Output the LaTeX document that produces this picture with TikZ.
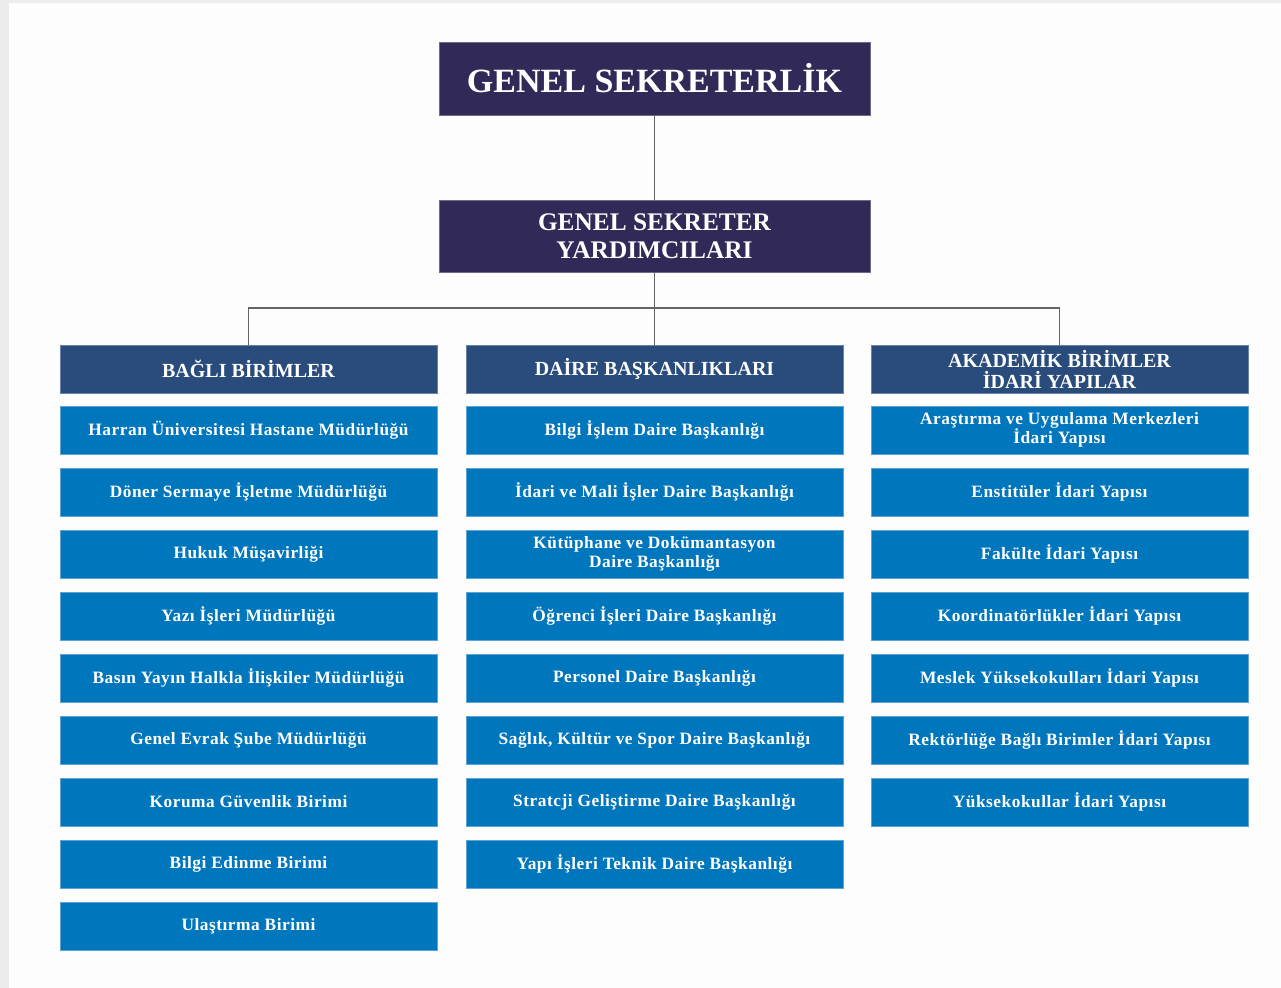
\documentclass[tikz,border=0pt]{standalone}
\usepackage{fontspec}
\setmainfont{Liberation Serif}
\newfontfamily\itemfont[LetterSpace=3]{Liberation Serif}
\begin{document}
\definecolor{pagegray}{RGB}{236,236,236}
\definecolor{pagewhite}{RGB}{253,253,253}
\definecolor{topviolet}{RGB}{49,41,88}
\definecolor{headblue}{RGB}{41,76,124}
\definecolor{itemblue}{RGB}{0,118,189}
\definecolor{itemedge}{RGB}{96,162,214}
\definecolor{linkgray}{RGB}{100,100,100}
\begin{tikzpicture}[x=0.75pt,y=-0.75pt,
  topbox/.style={fill=topviolet, draw=topviolet!70!white, line width=0.6pt,
    text=white, align=center, minimum width=431*0.75pt, inner sep=0pt},
  headbox/.style={fill=headblue, draw=headblue!70!white, line width=0.6pt,
    text=white, align=center, minimum width=377*0.75pt, minimum height=48*0.75pt,
    inner sep=0pt, font=\bfseries\fontsize{15}{15.8}\selectfont},
  itembox/.style={fill=itemblue, draw=itemedge, line width=0.6pt,
    text=white, align=center, minimum width=377*0.75pt, minimum height=48*0.75pt,
    inner sep=0pt, font=\itemfont\bfseries\fontsize{13}{14.3}\selectfont},
  link/.style={draw=linkgray, line width=0.9pt}]
% page
\fill[pagegray] (0,0) rectangle (1281,988);
\fill[pagewhite] (9,3) rectangle (1281,988);
% top levels
\node[topbox, minimum height=73*0.75pt, font=\bfseries\fontsize{25.5}{27}\selectfont] (gs) at (654.5,78.5) {GENEL SEKRETERLİK};
\node[topbox, minimum height=72*0.75pt, font=\bfseries\fontsize{19}{21}\selectfont] (gsy) at (654.5,236) {GENEL SEKRETER\\YARDIMCILARI};
% column headers
\node[headbox] (h1) at (248.5,369) {BAĞLI BİRİMLER};
\node[headbox] (h2) at (654.5,369) {DAİRE BAŞKANLIKLARI};
\node[headbox] (h3) at (1059.5,369) {AKADEMİK BİRİMLER\\İDARİ YAPILAR};
% connectors
\coordinate (j) at (654.5,308);
\draw[link] (gs.south) -- (gsy.north);
\draw[link] (gsy.south) -- (j);
\draw[link] (h1.north) |- (j) -| (h3.north);
\draw[link] (j) -- (h2.north);
% first column
\foreach \t [count=\i from 0] in {
  Harran Üniversitesi Hastane Müdürlüğü,
  Döner Sermaye İşletme Müdürlüğü,
  Hukuk Müşavirliği,
  Yazı İşleri Müdürlüğü,
  Basın Yayın Halkla İlişkiler Müdürlüğü,
  Genel Evrak Şube Müdürlüğü,
  Koruma Güvenlik Birimi,
  Bilgi Edinme Birimi,
  Ulaştırma Birimi}
  \node[itembox] (a\i) at (248.5,430+62*\i) {\t};
% second column
\foreach \t [count=\i from 0] in {
  Bilgi İşlem Daire Başkanlığı,
  İdari ve Mali İşler Daire Başkanlığı,
  {Kütüphane ve Dokümantasyon\\Daire Başkanlığı},
  Öğrenci İşleri Daire Başkanlığı,
  Personel Daire Başkanlığı,
  {Sağlık, Kültür ve Spor Daire Başkanlığı},
  Stratcji Geliştirme Daire Başkanlığı,
  Yapı İşleri Teknik Daire Başkanlığı}
  \node[itembox] (b\i) at (654.5,430+62*\i) {\t};
% third column
\foreach \t [count=\i from 0] in {
  {Araştırma ve Uygulama Merkezleri\\İdari Yapısı},
  Enstitüler İdari Yapısı,
  Fakülte İdari Yapısı,
  Koordinatörlükler İdari Yapısı,
  Meslek Yüksekokulları İdari Yapısı,
  Rektörlüğe Bağlı Birimler İdari Yapısı,
  Yüksekokullar İdari Yapısı}
  \node[itembox] (c\i) at (1059.5,430+62*\i) {\t};
\end{tikzpicture}
\end{document}
